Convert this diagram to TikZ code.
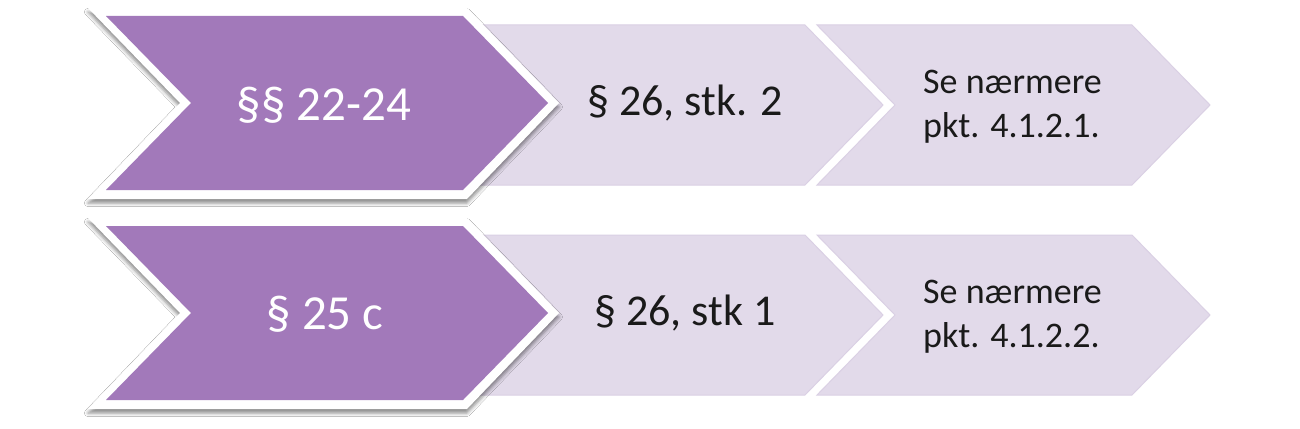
\documentclass[tikz,border=0pt]{standalone}
\usepackage{fontspec}
\setmainfont{Carlito}
\usetikzlibrary{shadows.blur}
\definecolor{darkpurple}{HTML}{A279BA}
\definecolor{lightpurple}{HTML}{E2DAEA}
\definecolor{lightedge}{HTML}{DAD0E4}
\definecolor{darktext}{HTML}{1A1A1A}
% chevron path: left, body right, depth, top, bottom
\def\chevpath#1#2#3#4#5{(#1,#4) -- (#2,#4) -- ({#2+#3},{(#4+#5)/2}) -- (#2,#5) -- (#1,#5) -- ({#1+#3},{(#4+#5)/2}) -- cycle}
\begin{document}
\begin{tikzpicture}[x=1pt,y=-1pt,
  lightchev/.style={fill=lightpurple, draw=lightedge, line width=1pt, line join=miter},
  whiteborder/.style={fill=white, blur shadow={shadow xshift=0pt, shadow yshift=-4pt, shadow blur radius=3.5pt, shadow opacity=45}},
  bigchev/.style={fill=darkpurple},
  bigtext/.style={text=white, font=\fontsize{49}{58}\selectfont, inner sep=0pt, anchor=base},
  midtext/.style={text=darktext, font=\fontsize{44}{52}\selectfont, inner sep=0pt, anchor=base},
  smalltext/.style={text=darktext, font=\fontsize{36}{44}\selectfont, inner sep=0pt, anchor=base west}]
\useasboundingbox (0,0) rectangle (1300,428);
\fill[white] (0,0) rectangle (1300,428);

\foreach \dy in {0,210} {
  \begin{scope}[yshift=-\dy pt]
    % light chevrons
    \path[lightchev] \chevpath{817}{1132}{78}{25}{185};
    \path[lightchev] \chevpath{430}{805}{78}{25}{185};
    % big chevron with white border and shadow
    \path[whiteborder] (88,8) -- (467,8) -- (559,103) -- (467,199) -- (88,199) -- (180,103) -- cycle;
    \path[bigchev] \chevpath{106}{463}{85}{16}{190};
  \end{scope}
}

% top row texts
\node[bigtext] (a1) at (324,120) {§§ 22-24};
\node[midtext] (b1) at (685,115) {§ 26, stk. 2};
\node[smalltext] (c1) at (923,93) {\begin{tabular}[t]{@{}l@{}}Se nærmere\\pkt. 4.1.2.1.\end{tabular}};

% bottom row texts
\node[bigtext] (a2) at (325,329) {§ 25 c};
\node[midtext] (b2) at (685,325) {§ 26, stk 1};
\node[smalltext] (c2) at (923,303) {\begin{tabular}[t]{@{}l@{}}Se nærmere\\pkt. 4.1.2.2.\end{tabular}};
\end{tikzpicture}
\end{document}
